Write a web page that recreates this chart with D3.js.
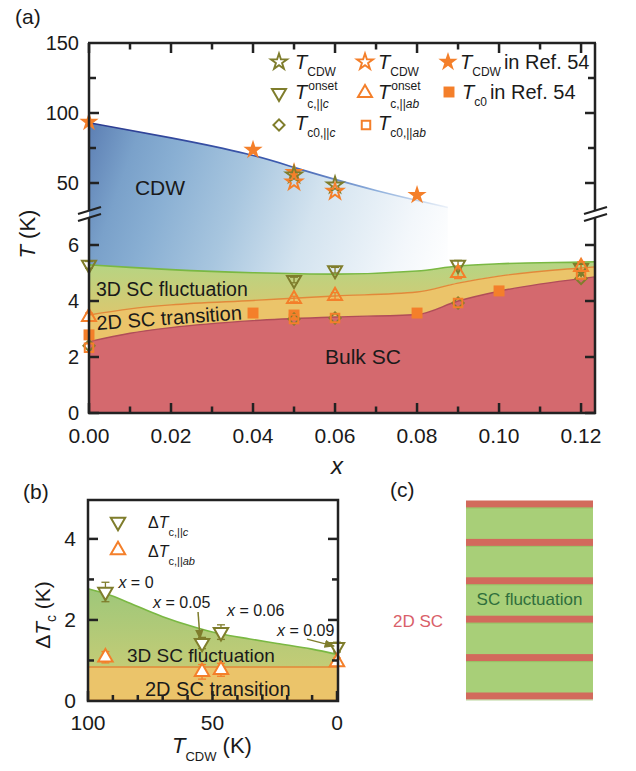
<!DOCTYPE html>
<html><head><meta charset="utf-8">
<script src="https://cdn.jsdelivr.net/npm/d3@7"></script>
<style>
body{margin:0;background:#fff}
svg{display:block}
text{font-family:"Liberation Sans",Arial,sans-serif;fill:#1a1a1a}
</style>
</head><body>
<svg id="chart" width="636" height="771"></svg>
<script>
// ---------------- DATA: panel (a) ----------------
const xTicksA = [0, 0.02, 0.04, 0.06, 0.08, 0.10, 0.12];
const xTickLabelsA = ["0.00", "0.02", "0.04", "0.06", "0.08", "0.10", "0.12"];
const yTicksUpper = [50, 100, 150];
const yTicksLower = [0, 2, 4, 6];

const dopingX = [0, 0.05, 0.06, 0.09, 0.12];
const tcOnsetC = [5.29, 4.75, 5.10, 5.29, 5.18];
const tcOnsetAB = [3.43, 4.07, 4.18, 5.00, 5.22];
const tc0C = [2.40, 3.36, 3.39, 3.93, 4.80];
const tc0AB = [2.33, 3.36, 3.39, 3.93, 4.95];
const errOnsetC = [0.12, 0.10, 0.10, 0.16, 0.14];
const errOnsetAB = [0.14, 0.10, 0.12, 0.20, 0.18];

const cdwX = [0.05, 0.06];
const tcdwC = [55.7, 48.5];
const tcdwAB = [50.7, 44.0];

const refX = [0, 0.04, 0.05, 0.08];
const refTcdw = [93.6, 73.6, 57.7, 41.4];
const ref0X = [0, 0.04, 0.05, 0.08, 0.10];
const refTc0 = [2.79, 3.57, 3.50, 3.57, 4.36];

const boundX = [0, 0.01, 0.02, 0.04, 0.06, 0.08, 0.09, 0.10, 0.12, 0.1234];
const fluctTop = [5.29, 5.20, 5.12, 5.01, 4.96, 5.07, 5.25, 5.33, 5.39, 5.40];
const trans2DTop = [3.50, 3.72, 3.86, 4.02, 4.18, 4.32, 4.64, 4.89, 5.18, 5.22];
const bulkTop = [2.55, 2.85, 3.05, 3.30, 3.43, 3.52, 4.00, 4.35, 4.80, 4.86];
const cdwLineX = [0, 0.02, 0.04, 0.05, 0.06, 0.07, 0.08, 0.0875];
const cdwLineT = [93.0, 82.5, 70.5, 61.0, 52.5, 44.5, 37.5, 32.5];

// ---------------- DATA: panel (b) ----------------
const xTicksB = [100, 50, 0];
const yTicksB = [0, 2, 4];
const tcdwB = [93, 54.2, 46.6, 0];
const dTcC = [2.69, 1.43, 1.70, 1.33];
const dTcAB = [1.08, 0.72, 0.77, 0.96];
const errBC = [0.24, 0.14, 0.18, 0.12];
const errBAB = [0.14, 0.18, 0.16, 0.10];
const fitBx = [100, 93, 80, 70, 57, 47, 35, 24, 10, 0];
const fitBC = [2.77, 2.65, 2.33, 2.08, 1.82, 1.66, 1.53, 1.42, 1.28, 1.15];
const fitBAB = [0.84, 0.84];
const fitBABx = [100, 0];
const annoLabels = ["0", "0.05", "0.06", "0.09"];

// ---------------- DATA: panel (c) ----------------
const layers = [0, 1, 2, 3, 4, 5];

// ---------------- COLORS ----------------
const OLIVE = "#7f7d2c", ORANGE = "#f47f2a";
const RED_FILL = "#d4696e", YEL_FILL = "#ebc46a";
const GREEN_LINE = "#7ab843", ORANGE_LINE = "#e2893a", RED_LINE = "#b04d58";

const svg = d3.select("#chart");
const defs = svg.append("defs");
const FRAME = "#222";

// gradients
const gCdw = defs.append("linearGradient").attr("id", "gCdw")
  .attr("gradientUnits", "userSpaceOnUse").attr("x1", 60).attr("y1", 100).attr("x2", 460).attr("y2", 240);
[[0, "#4766a3"], [0.2, "#7aa1ca"], [0.3, "#89afd3"], [0.47, "#a8c6df"], [0.65, "#d3e3ef"], [0.88, "#f3f7fb"], [1, "#ffffff"]]
  .forEach(([o, c]) => gCdw.append("stop").attr("offset", o).attr("stop-color", c));
const gCdwLine = defs.append("linearGradient").attr("id", "gCdwLine")
  .attr("gradientUnits", "userSpaceOnUse").attr("x1", 89).attr("y1", 0).attr("x2", 450).attr("y2", 0);
[[0, "#2b3a8f"], [0.55, "#3d5cb0"], [0.8, "#8fb0dc"], [1, "#eef3fa"]]
  .forEach(([o, c]) => gCdwLine.append("stop").attr("offset", o).attr("stop-color", c));
const gFluctA = defs.append("linearGradient").attr("id", "gFluctA")
  .attr("gradientUnits", "userSpaceOnUse").attr("x1", 0).attr("y1", 262).attr("x2", 0).attr("y2", 312);
[[0, "#b4d584"], [1, "#d9c870"]].forEach(([o, c]) => gFluctA.append("stop").attr("offset", o).attr("stop-color", c));
const gFluctB = defs.append("linearGradient").attr("id", "gFluctB")
  .attr("gradientUnits", "userSpaceOnUse").attr("x1", 0).attr("y1", 585).attr("x2", 0).attr("y2", 667);
[[0, "#9cc77a"], [1, "#c3cc76"]].forEach(([o, c]) => gFluctB.append("stop").attr("offset", o).attr("stop-color", c));

// ---------------- PANEL (a) ----------------
const A = {l: 89, r: 595, t: 43, b: 413};
const xA = d3.scaleLinear([0, 0.1234], [A.l, A.r]);
const yUp = d3.scaleLinear([50, 150], [183, 43]);
const yLow = d3.scaleLinear([0, 6], [413, 245]);
const gA = svg.append("g");

const zipA = (xs, ys) => xs.map((x, i) => [x, ys[i]]);

// CDW gradient area
gA.append("path")
  .datum(zipA(cdwLineX, cdwLineT))
  .attr("d", d3.area().x(d => xA(d[0])).y0(yLow(0)).y1(d => yUp(d[1])).curve(d3.curveBasis))
  .attr("fill", "url(#gCdw)");

// SC regions
const bound = boundX.map((x, i) => ({x, g: fluctTop[i], o: trans2DTop[i], r: bulkTop[i]}));
const ar = (top, bot) => d3.area().x(d => xA(d.x)).y0(bot).y1(top).curve(d3.curveMonotoneX);
gA.append("path").datum(bound).attr("d", ar(d => yLow(d.g), d => yLow(d.o))).attr("fill", "url(#gFluctA)");
gA.append("path").datum(bound).attr("d", ar(d => yLow(d.o), d => yLow(d.r))).attr("fill", YEL_FILL);
gA.append("path").datum(bound).attr("d", ar(d => yLow(d.r), d => yLow(0))).attr("fill", RED_FILL);
const ln = key => d3.line().x(d => xA(d.x)).y(d => yLow(d[key])).curve(d3.curveMonotoneX);
gA.append("path").datum(bound).attr("d", ln("r")).attr("fill", "none").attr("stroke", RED_LINE).attr("stroke-width", 1.4);
gA.append("path").datum(bound).attr("d", ln("o")).attr("fill", "none").attr("stroke", ORANGE_LINE).attr("stroke-width", 1.4);
gA.append("path").datum(bound).attr("d", ln("g")).attr("fill", "none").attr("stroke", GREEN_LINE).attr("stroke-width", 1.6);
gA.append("path").datum(zipA(cdwLineX, cdwLineT))
  .attr("d", d3.line().x(d => xA(d[0])).y(d => yUp(d[1])).curve(d3.curveBasis))
  .attr("fill", "none").attr("stroke", "url(#gCdwLine)").attr("stroke-width", 1.6);

// region labels
gA.append("text").attr("x", 160).attr("y", 195).attr("text-anchor", "middle").attr("font-size", 21).text("CDW");
gA.append("text").attr("x", 96).attr("y", 296).attr("font-size", 19.5).text("3D SC fluctuation");
gA.append("text").attr("x", 0).attr("y", 0).attr("font-size", 20)
  .attr("transform", "translate(97,330) rotate(-4.2)").text("2D SC transition");
gA.append("text").attr("x", 325).attr("y", 364).attr("font-size", 21).text("Bulk SC");

// markers
function sym(g, type, size, x, y, opt) {
  return g.append("path")
    .attr("d", d3.symbol().type(type).size(size)())
    .attr("transform", `translate(${x},${y}) rotate(${opt.rot || 0})`)
    .attr("fill", opt.fill || "none")
    .attr("stroke", opt.stroke || "none")
    .attr("stroke-width", opt.sw || 2);
}
function errBar(g, x, y0, y1, color) {
  g.append("line").attr("x1", x).attr("x2", x).attr("y1", y0).attr("y2", y1).attr("stroke", color).attr("stroke-width", 1.3);
  [y0, y1].forEach(y => g.append("line").attr("x1", x - 4).attr("x2", x + 4).attr("y1", y).attr("y2", y).attr("stroke", color).attr("stroke-width", 1.3));
}
const gM = svg.append("g");
ref0X.forEach((x, i) => sym(gM, d3.symbolSquare, 120, xA(x), yLow(refTc0[i]), {fill: ORANGE}));
dopingX.forEach((x, i) => {
  errBar(gM, xA(x), yLow(tcOnsetC[i] - errOnsetC[i]), yLow(tcOnsetC[i] + errOnsetC[i]), OLIVE);
  errBar(gM, xA(x), yLow(tcOnsetAB[i] - errOnsetAB[i]), yLow(tcOnsetAB[i] + errOnsetAB[i]), ORANGE);
});
dopingX.forEach((x, i) => {
  sym(gM, d3.symbolSquare, 62, xA(x), yLow(tc0C[i]), {stroke: OLIVE, rot: 45});
  sym(gM, d3.symbolSquare, 72, xA(x), yLow(tc0AB[i]), {stroke: ORANGE});
  sym(gM, d3.symbolTriangle, 85, xA(x), yLow(tcOnsetC[i]), {stroke: OLIVE, rot: 180});
  sym(gM, d3.symbolTriangle, 85, xA(x), yLow(tcOnsetAB[i]), {stroke: ORANGE});
});
refX.forEach((x, i) => sym(gM, d3.symbolStar, 115, xA(x), yUp(refTcdw[i]), {fill: ORANGE}));
cdwX.forEach((x, i) => {
  sym(gM, d3.symbolStar, 80, xA(x), yUp(tcdwC[i]), {stroke: OLIVE, sw: 1.9});
  sym(gM, d3.symbolStar, 80, xA(x), yUp(tcdwAB[i]), {stroke: ORANGE, sw: 1.9});
});

// frame & axes (a)
const gAx = svg.append("g").attr("stroke", FRAME).attr("stroke-width", 2.5).attr("fill", "none");
const brkTop = 210.5, brkBot = 217.5;
gAx.append("line").attr("x1", A.l - 1).attr("x2", A.r + 1).attr("y1", A.t).attr("y2", A.t);
gAx.append("line").attr("x1", A.l - 1).attr("x2", A.r + 1).attr("y1", A.b).attr("y2", A.b);
[A.l, A.r].forEach(x => {
  gAx.append("line").attr("x1", x).attr("x2", x).attr("y1", A.t).attr("y2", brkTop);
  gAx.append("line").attr("x1", x).attr("x2", x).attr("y1", brkBot).attr("y2", A.b + 1);
  gAx.append("line").attr("x1", x - 11).attr("x2", x + 12).attr("y1", brkTop + 3.5).attr("y2", brkTop - 3.5).attr("stroke-width", 2.2);
  gAx.append("line").attr("x1", x - 11).attr("x2", x + 12).attr("y1", brkBot + 3.5).attr("y2", brkBot - 3.5).attr("stroke-width", 2.2);
});
d3.range(0, 13).forEach(k => {
  const x = xA(k / 100), L = k % 2 === 0 ? 10 : 6.5;
  gAx.append("line").attr("x1", x).attr("x2", x).attr("y1", A.b).attr("y2", A.b - L);
  gAx.append("line").attr("x1", x).attr("x2", x).attr("y1", A.t).attr("y2", A.t + L);
});
[50, 75, 100, 125].forEach(v => {
  const y = yUp(v), L = v % 50 === 0 ? 10 : 7;
  gAx.append("line").attr("x1", A.l).attr("x2", A.l + L).attr("y1", y).attr("y2", y);
  gAx.append("line").attr("x1", A.r).attr("x2", A.r - L).attr("y1", y).attr("y2", y);
});
yTicksLower.forEach(v => {
  const y = yLow(v);
  gAx.append("line").attr("x1", A.l).attr("x2", A.l + 10).attr("y1", y).attr("y2", y);
  gAx.append("line").attr("x1", A.r).attr("x2", A.r - 10).attr("y1", y).attr("y2", y);
});
const gAt = svg.append("g").attr("font-size", 20);
yTicksUpper.forEach(v => gAt.append("text").attr("x", A.l - 10).attr("y", yUp(v) + 7).attr("text-anchor", "end").text(v));
yTicksLower.forEach(v => gAt.append("text").attr("x", A.l - 10).attr("y", yLow(v) + 7).attr("text-anchor", "end").text(v));
xTicksA.forEach((v, i) => gAt.append("text").attr("x", xA(v)).attr("y", 443).attr("text-anchor", "middle").attr("font-size", 21).text(xTickLabelsA[i]));
svg.append("text").attr("x", 337).attr("y", 474).attr("text-anchor", "middle").attr("font-size", 24).attr("font-style", "italic").text("x");
const yl = svg.append("text").attr("transform", "translate(35,234) rotate(-90)").attr("text-anchor", "middle").attr("font-size", 22);
yl.append("tspan").attr("font-style", "italic").text("T");
yl.append("tspan").text(" (K)");
svg.append("text").attr("x", 15).attr("y", 24).attr("font-size", 21).text("(a)");

// legend (a)
const gL = svg.append("g");
function Tlabel(g, x, base, sup, sub, after) {
  const t = g.append("text").attr("x", x).attr("y", base).attr("font-size", 20).attr("font-style", "italic").text("T");
  const w = t.node().getComputedTextLength();
  if (sup) g.append("text").attr("x", x + w + 1).attr("y", base - 9).attr("font-size", 12).text(sup);
  let subEnd = x + w;
  if (sub) {
    const s = g.append("text").attr("x", x + w).attr("y", base + (sup ? 9 : 7)).attr("font-size", 12);
    sub.forEach(p => s.append("tspan").attr("font-style", p.i ? "italic" : "normal").text(p.t));
    subEnd = x + w + s.node().getComputedTextLength();
  }
  if (after) g.append("text").attr("x", subEnd + 3).attr("y", base).attr("font-size", 20).text(after);
}
sym(gL, d3.symbolStar, 80, 279, 62, {stroke: OLIVE, sw: 1.9});
sym(gL, d3.symbolTriangle, 85, 279, 93, {stroke: OLIVE, rot: 180});
sym(gL, d3.symbolSquare, 62, 279, 125, {stroke: OLIVE, rot: 45});
sym(gL, d3.symbolStar, 80, 365, 62, {stroke: ORANGE, sw: 1.9});
sym(gL, d3.symbolTriangle, 85, 365, 93, {stroke: ORANGE});
sym(gL, d3.symbolSquare, 72, 366, 125, {stroke: ORANGE});
sym(gL, d3.symbolStar, 115, 448, 62, {fill: ORANGE});
sym(gL, d3.symbolSquare, 120, 449, 92, {fill: ORANGE});
Tlabel(gL, 295, 69, null, [{t: "CDW"}]);
Tlabel(gL, 295, 99, "onset", [{t: "c,||"}, {t: "c", i: true}]);
Tlabel(gL, 295, 130, null, [{t: "c0,||"}, {t: "c", i: true}]);
Tlabel(gL, 378, 69, null, [{t: "CDW"}]);
Tlabel(gL, 378, 99, "onset", [{t: "c,||"}, {t: "ab", i: true}]);
Tlabel(gL, 378, 130, null, [{t: "c0,||"}, {t: "ab", i: true}]);
Tlabel(gL, 460, 69, null, [{t: "CDW"}], "in Ref. 54");
Tlabel(gL, 462, 99, null, [{t: "c0"}], "in Ref. 54");

// ---------------- PANEL (b) ----------------
const B = {l: 88, r: 338, t: 500, b: 701};
const xB = d3.scaleLinear([100, 0], [B.l, 337]);
const yB = d3.scaleLinear([0, 4.96], [B.b, B.t]);
const gB = svg.append("g");
const fitPts = fitBx.map((x, i) => [x, fitBC[i]]);
gB.append("path").datum(fitPts)
  .attr("d", d3.area().x(d => xB(d[0])).y0(yB(fitBAB[0])).y1(d => yB(d[1])).curve(d3.curveMonotoneX))
  .attr("fill", "url(#gFluctB)");
gB.append("rect").attr("x", B.l).attr("width", B.r - B.l).attr("y", yB(fitBAB[0])).attr("height", yB(0) - yB(fitBAB[0])).attr("fill", YEL_FILL);
gB.append("line").attr("x1", B.l).attr("x2", B.r).attr("y1", yB(0) - 1.5).attr("y2", yB(0) - 1.5).attr("stroke", "#d9a24c").attr("stroke-width", 1);
gB.append("path").datum(fitPts)
  .attr("d", d3.line().x(d => xB(d[0])).y(d => yB(d[1])).curve(d3.curveMonotoneX))
  .attr("fill", "none").attr("stroke", GREEN_LINE).attr("stroke-width", 1.6);
gB.append("path").datum(fitBABx.map((x, i) => [x, fitBAB[i]]))
  .attr("d", d3.line().x(d => xB(d[0])).y(d => yB(d[1])))
  .attr("fill", "none").attr("stroke", ORANGE_LINE).attr("stroke-width", 1.6);
gB.append("text").attr("x", 127).attr("y", 662).attr("font-size", 19).text("3D SC fluctuation");
gB.append("text").attr("x", 145).attr("y", 696).attr("font-size", 20).text("2D SC transition");

tcdwB.forEach((x, i) => {
  errBar(gB, xB(x), yB(dTcC[i] - errBC[i]), yB(dTcC[i] + errBC[i]), OLIVE);
  errBar(gB, xB(x), yB(dTcAB[i] - errBAB[i]), yB(dTcAB[i] + errBAB[i]), ORANGE);
});
tcdwB.forEach((x, i) => {
  sym(gB, d3.symbolTriangle, 90, xB(x), yB(dTcC[i]), {stroke: OLIVE, fill: "#fff", rot: 180});
  sym(gB, d3.symbolTriangle, 90, xB(x), yB(dTcAB[i]), {stroke: ORANGE, fill: "#fff"});
});

// annotations
const annoOff = [[13, -4], [-49, -35], [6, -16], [-60, -11]];
tcdwB.forEach((x, i) => {
  const px = xB(x), py = yB(dTcC[i]);
  const t = gB.append("text").attr("x", px + annoOff[i][0]).attr("y", py + annoOff[i][1]).attr("font-size", 16);
  t.append("tspan").attr("font-style", "italic").text("x");
  t.append("tspan").text(" = " + annoLabels[i]);
});
defs.append("marker").attr("id", "arrowO").attr("viewBox", "0 0 10 10").attr("refX", 9).attr("refY", 5)
  .attr("markerWidth", 7).attr("markerHeight", 7).attr("orient", "auto-start-reverse")
  .append("path").attr("d", "M0,1 L10,5 L0,9 Z").attr("fill", OLIVE);
gB.append("line").attr("x1", xB(tcdwB[1]) - 4).attr("y1", yB(dTcC[1]) - 31).attr("x2", xB(tcdwB[1]) - 2).attr("y2", yB(dTcC[1]) - 4)
  .attr("stroke", OLIVE).attr("stroke-width", 1.5).attr("marker-end", "url(#arrowO)");
gB.append("line").attr("x1", xB(tcdwB[3]) - 30).attr("y1", yB(dTcC[3]) - 8).attr("x2", xB(tcdwB[3]) - 3).attr("y2", yB(dTcC[3]) - 1)
  .attr("stroke", OLIVE).attr("stroke-width", 1.5).attr("marker-end", "url(#arrowO)");

// legend (b)
sym(gB, d3.symbolTriangle, 90, 118, 522, {stroke: OLIVE, fill: "#fff", rot: 180});
sym(gB, d3.symbolTriangle, 90, 118, 550, {stroke: ORANGE, fill: "#fff"});
function dTlabel(g, x, base, sub) {
  const t = g.append("text").attr("x", x).attr("y", base).attr("font-size", 16);
  t.append("tspan").text("Δ");
  t.append("tspan").attr("font-style", "italic").text("T");
  const w = t.node().getComputedTextLength();
  const s = g.append("text").attr("x", x + w).attr("y", base + 8).attr("font-size", 11);
  sub.forEach(p => s.append("tspan").attr("font-style", p.i ? "italic" : "normal").text(p.t));
}
dTlabel(gB, 148, 528, [{t: "c,||"}, {t: "c", i: true}]);
dTlabel(gB, 148, 557, [{t: "c,||"}, {t: "ab", i: true}]);

// frame & axes (b)
const gBx = svg.append("g").attr("stroke", FRAME).attr("stroke-width", 2.5).attr("fill", "none");
gBx.append("rect").attr("x", B.l).attr("y", B.t).attr("width", B.r - B.l).attr("height", B.b - B.t);
d3.range(0, 11).forEach(k => {
  const x = xB(k * 10), L = k % 5 === 0 ? 10 : 6;
  gBx.append("line").attr("x1", x).attr("x2", x).attr("y1", B.b).attr("y2", B.b - L);
});
[1, 2, 3, 4].forEach(v => {
  const y = yB(v), L = v % 2 === 0 ? 10 : 6;
  gBx.append("line").attr("x1", B.l).attr("x2", B.l + L).attr("y1", y).attr("y2", y);
  gBx.append("line").attr("x1", B.r).attr("x2", B.r - L).attr("y1", y).attr("y2", y);
});
yTicksB.forEach(v => svg.append("text").attr("x", B.l - 12).attr("y", yB(v) + 7).attr("text-anchor", "end").attr("font-size", 21).text(v));
xTicksB.forEach(v => svg.append("text").attr("x", xB(v)).attr("y", 730).attr("text-anchor", "middle").attr("font-size", 21).text(v));
const ylb = svg.append("text").attr("transform", "translate(50,615) rotate(-90)").attr("text-anchor", "middle").attr("font-size", 21);
ylb.append("tspan").text("Δ");
ylb.append("tspan").attr("font-style", "italic").text("T");
ylb.append("tspan").attr("font-size", 14).attr("dy", 6).text("c");
ylb.append("tspan").attr("dy", -6).text(" (K)");
const xlb = svg.append("text").attr("x", 172).attr("y", 753).attr("font-size", 22);
xlb.append("tspan").attr("font-style", "italic").text("T");
xlb.append("tspan").attr("font-size", 13).attr("dy", 8).text("CDW");
xlb.append("tspan").attr("dy", -8).text(" (K)");
svg.append("text").attr("x", 23).attr("y", 499).attr("font-size", 21).text("(b)");

// ---------------- PANEL (c) ----------------
const yC = d3.scaleLinear([0, 5], [504, 696]);
const C = {l: 466, r: 593};
svg.append("rect").attr("x", C.l).attr("y", yC(0) - 3).attr("width", C.r - C.l).attr("height", yC(5) - yC(0) + 6).attr("fill", "#a8cf78");
layers.forEach(k => {
  svg.append("rect").attr("x", C.l).attr("y", yC(k) - 3.5).attr("width", C.r - C.l).attr("height", 7).attr("fill", "#d26a5c");
  svg.append("rect").attr("x", C.l).attr("y", yC(k) + 3.5).attr("width", C.r - C.l).attr("height", 1).attr("fill", "#8dbb5a").attr("opacity", 0.6);
});
svg.append("text").attr("x", (C.l + C.r) / 2).attr("y", 605).attr("text-anchor", "middle").attr("font-size", 17).style("fill", "#2f6e3c").text("SC fluctuation");
svg.append("text").attr("x", 393).attr("y", 627).attr("font-size", 17).style("fill", "#d9606a").text("2D SC");
svg.append("text").attr("x", 390).attr("y", 497).attr("font-size", 21).text("(c)");
</script>
</body></html>
